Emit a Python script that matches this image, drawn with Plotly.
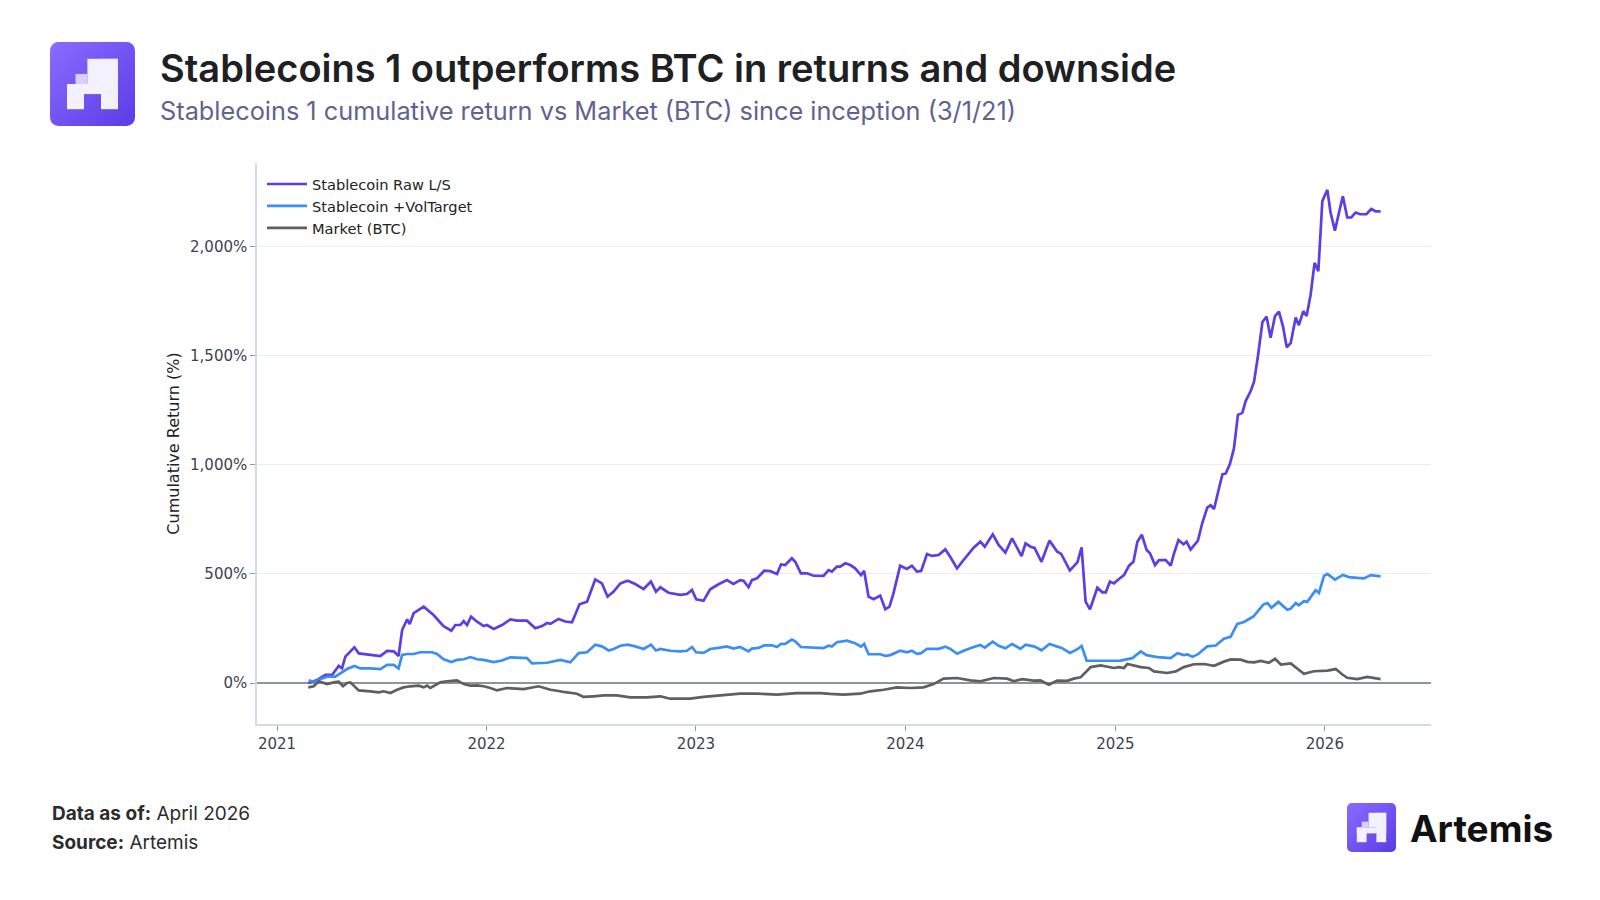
import base64
from datetime import datetime, timedelta
import plotly.graph_objects as go

# ---------------- data (time as decimal year, value in %) ----------------
raw_t = [2021.149, 2021.191, 2021.231, 2021.263, 2021.294, 2021.310, 2021.326, 2021.369, 2021.390, 2021.445,
         2021.493, 2021.525, 2021.557, 2021.580, 2021.597, 2021.621, 2021.633, 2021.652, 2021.700, 2021.747,
         2021.795, 2021.832, 2021.851, 2021.875, 2021.891, 2021.907, 2021.926, 2021.955, 2021.986, 2022.002,
         2022.034, 2022.074, 2022.114, 2022.146, 2022.193, 2022.233, 2022.265, 2022.289, 2022.305, 2022.344,
         2022.376, 2022.408, 2022.444, 2022.480, 2022.519, 2022.551, 2022.578, 2022.607, 2022.639, 2022.674,
         2022.710, 2022.750, 2022.785, 2022.809, 2022.830, 2022.869, 2022.925, 2022.957, 2022.981, 2023.001,
         2023.036, 2023.068, 2023.108, 2023.148, 2023.179, 2023.211, 2023.227, 2023.251, 2023.267, 2023.291,
         2023.326, 2023.355, 2023.387, 2023.406, 2023.426, 2023.458, 2023.474, 2023.501, 2023.530, 2023.561,
         2023.609, 2023.633, 2023.649, 2023.673, 2023.689, 2023.713, 2023.737, 2023.760, 2023.788, 2023.803,
         2023.824, 2023.848, 2023.880, 2023.904, 2023.924, 2023.943, 2023.975, 2024.007, 2024.031, 2024.055,
         2024.075, 2024.103, 2024.126, 2024.158, 2024.190, 2024.214, 2024.246, 2024.277, 2024.325, 2024.357,
         2024.378, 2024.416, 2024.444, 2024.476, 2024.508, 2024.553, 2024.572, 2024.596, 2024.615, 2024.648,
         2024.686, 2024.723, 2024.742, 2024.783, 2024.819, 2024.839, 2024.858, 2024.879, 2024.914, 2024.938,
         2024.954, 2024.974, 2024.993, 2025.017, 2025.041, 2025.065, 2025.086, 2025.105, 2025.126, 2025.149,
         2025.165, 2025.189, 2025.208, 2025.240, 2025.264, 2025.280, 2025.301, 2025.325, 2025.340, 2025.359,
         2025.394, 2025.415, 2025.439, 2025.455, 2025.471, 2025.490, 2025.511, 2025.527, 2025.547, 2025.566,
         2025.585, 2025.606, 2025.622, 2025.646, 2025.662, 2025.681, 2025.702, 2025.722, 2025.741, 2025.762,
         2025.781, 2025.800, 2025.818, 2025.837, 2025.861, 2025.876, 2025.897, 2025.913, 2025.932, 2025.951,
         2025.969, 2025.988, 2026.012, 2026.027, 2026.048, 2026.068, 2026.086, 2026.107, 2026.126, 2026.147,
         2026.168, 2026.198, 2026.222, 2026.243, 2026.266]
raw_v = [0, 14, 37, 37, 78, 67, 121, 164, 136, 131,
         124, 147, 145, 124, 243, 292, 270, 320, 350, 312,
         261, 240, 266, 266, 284, 266, 304, 281, 261, 266,
         248, 266, 292, 286, 286, 251, 261, 275, 271, 294,
         282, 278, 361, 373, 475, 457, 396, 419, 457, 469,
         454, 431, 465, 419, 439, 414, 404, 408, 427, 384,
         377, 430, 453, 472, 454, 472, 469, 439, 472, 480,
         515, 513, 500, 544, 541, 572, 556, 503, 503, 492,
         491, 518, 511, 534, 534, 549, 541, 526, 495, 514,
         396, 384, 401, 338, 350, 411, 538, 523, 538, 511,
         514, 592, 583, 587, 613, 578, 526, 564, 621, 648,
         625, 682, 633, 598, 663, 582, 640, 625, 620, 556,
         653, 602, 592, 516, 553, 622, 373, 338, 437, 416,
         416, 465, 457, 477, 495, 538, 556, 648, 680, 610,
         595, 541, 564, 564, 538, 595, 656, 636, 648, 612,
         653, 735, 805, 815, 798, 875, 957, 961, 1005, 1076,
         1230, 1239, 1293, 1339, 1382, 1502, 1656, 1680, 1584, 1683,
         1703, 1636, 1540, 1559, 1676, 1641, 1706, 1683, 1780, 1927,
         1889, 2210, 2262, 2159, 2075, 2159, 2232, 2135, 2135, 2158,
         2150, 2150, 2174, 2163, 2163]

vol_t = [2021.151, 2021.175, 2021.207, 2021.239, 2021.278, 2021.310, 2021.334, 2021.369, 2021.398, 2021.445,
         2021.493, 2021.525, 2021.557, 2021.580, 2021.597, 2021.621, 2021.652, 2021.684, 2021.740, 2021.764,
         2021.795, 2021.832, 2021.859, 2021.891, 2021.923, 2021.955, 2021.986, 2022.034, 2022.074, 2022.114,
         2022.193, 2022.217, 2022.265, 2022.289, 2022.352, 2022.400, 2022.440, 2022.480, 2022.519, 2022.551,
         2022.583, 2022.607, 2022.639, 2022.674, 2022.710, 2022.750, 2022.785, 2022.809, 2022.830, 2022.877,
         2022.925, 2022.957, 2022.981, 2023.001, 2023.036, 2023.068, 2023.108, 2023.148, 2023.179, 2023.211,
         2023.251, 2023.267, 2023.299, 2023.326, 2023.363, 2023.387, 2023.406, 2023.426, 2023.458, 2023.474,
         2023.501, 2023.561, 2023.609, 2023.633, 2023.649, 2023.673, 2023.721, 2023.760, 2023.788, 2023.803,
         2023.824, 2023.880, 2023.904, 2023.928, 2023.975, 2024.007, 2024.031, 2024.055, 2024.075, 2024.103,
         2024.158, 2024.190, 2024.214, 2024.246, 2024.277, 2024.325, 2024.357, 2024.378, 2024.416, 2024.444,
         2024.476, 2024.508, 2024.548, 2024.572, 2024.615, 2024.648, 2024.686, 2024.723, 2024.742, 2024.783,
         2024.819, 2024.839, 2024.863, 2024.940, 2025.025, 2025.081, 2025.121, 2025.149, 2025.200, 2025.264,
         2025.296, 2025.327, 2025.344, 2025.368, 2025.394, 2025.439, 2025.479, 2025.518, 2025.550, 2025.582,
         2025.614, 2025.659, 2025.706, 2025.726, 2025.745, 2025.778, 2025.821, 2025.837, 2025.861, 2025.876,
         2025.900, 2025.916, 2025.932, 2025.956, 2025.972, 2025.996, 2026.012, 2026.048, 2026.086, 2026.115,
         2026.155, 2026.187, 2026.219, 2026.266]
vol_v = [12, 5, 18, 29, 29, 48, 64, 78, 67, 67,
         64, 83, 83, 67, 129, 133, 133, 141, 141, 133,
         109, 96, 106, 109, 119, 109, 106, 96, 103, 118,
         114, 90, 90, 93, 106, 95, 137, 141, 176, 168,
         149, 156, 171, 176, 168, 156, 176, 149, 156, 148,
         145, 148, 165, 141, 138, 156, 161, 168, 158, 165,
         145, 158, 161, 173, 173, 165, 180, 179, 199, 191,
         165, 164, 160, 171, 167, 187, 194, 182, 167, 179,
         132, 132, 125, 128, 148, 141, 148, 134, 137, 157,
         157, 167, 156, 134, 148, 165, 174, 162, 190, 171,
         159, 179, 157, 176, 167, 150, 179, 167, 162, 138,
         155, 170, 102, 102, 103, 114, 145, 128, 119, 114,
         137, 128, 131, 120, 132, 168, 172, 203, 212, 271,
         280, 305, 360, 367, 345, 372, 336, 341, 367, 356,
         375, 372, 392, 426, 413, 491, 500, 474, 496, 486,
         482, 480, 495, 489]

btc_t = [2021.149, 2021.175, 2021.199, 2021.222, 2021.239, 2021.270, 2021.294, 2021.315, 2021.334, 2021.350,
         2021.390, 2021.445, 2021.485, 2021.509, 2021.541, 2021.573, 2021.604, 2021.636, 2021.676, 2021.700,
         2021.716, 2021.732, 2021.779, 2021.811, 2021.859, 2021.891, 2021.923, 2021.955, 2021.986, 2022.018,
         2022.050, 2022.098, 2022.177, 2022.249, 2022.305, 2022.352, 2022.368, 2022.432, 2022.463, 2022.511,
         2022.559, 2022.623, 2022.686, 2022.766, 2022.830, 2022.877, 2022.973, 2023.036, 2023.132, 2023.211,
         2023.291, 2023.387, 2023.482, 2023.593, 2023.641, 2023.705, 2023.784, 2023.832, 2023.896, 2023.959,
         2024.023, 2024.086, 2024.134, 2024.182, 2024.246, 2024.309, 2024.357, 2024.421, 2024.485, 2024.516,
         2024.556, 2024.611, 2024.643, 2024.683, 2024.723, 2024.771, 2024.802, 2024.834, 2024.858, 2024.882,
         2024.930, 2024.962, 2024.993, 2025.017, 2025.041, 2025.057, 2025.089, 2025.121, 2025.160, 2025.184,
         2025.248, 2025.288, 2025.327, 2025.375, 2025.423, 2025.471, 2025.518, 2025.550, 2025.598, 2025.630,
         2025.662, 2025.694, 2025.733, 2025.762, 2025.790, 2025.837, 2025.900, 2025.948, 2026.012, 2026.052,
         2026.084, 2026.107, 2026.155, 2026.203, 2026.266]
btc_v = [-20, -15, 8, 0, -5, 3, 6, -15, 0, 3,
         -34, -38, -43, -38, -46, -31, -20, -15, -12, -20,
         -12, -23, 3, 8, 12, -5, -12, -11, -15, -23,
         -34, -23, -28, -15, -31, -38, -41, -49, -64, -61,
         -57, -57, -66, -66, -61, -72, -72, -64, -57, -49,
         -49, -53, -46, -46, -50, -53, -49, -38, -31, -20,
         -23, -20, -5, 20, 23, 12, 8, 23, 20, 8,
         18, 11, 12, -8, 11, 10, 20, 26, 49, 73,
         81, 76, 69, 73, 69, 87, 79, 73, 69, 53,
         46, 53, 73, 86, 87, 79, 98, 108, 107, 97,
         95, 101, 93, 111, 85, 90, 42, 54, 57, 64,
         39, 24, 18, 28, 18]

series_names = ["Stablecoin Raw L/S", "Stablecoin +VolTarget", "Market (BTC)"]
series_colors = ["#5b3ee6", "#3a8ef5", "#5f5f5f"]
y_ticks = [0, 500, 1000, 1500, 2000]
x_tick_years = [2021, 2022, 2023, 2024, 2025, 2026]

title_text = "Stablecoins 1 outperforms BTC in returns and downside"
subtitle_text = "Stablecoins 1 cumulative return vs Market (BTC) since inception (3/1/21)"
y_title = "Cumulative Return (%)"
footer_date = "April 2026"
footer_source = "Artemis"


def to_date(t):
    y = int(t)
    start = datetime(y, 1, 1)
    days = (datetime(y + 1, 1, 1) - start).days
    return start + timedelta(days=(t - y) * days)


# ---------------- layout helpers (target pixel -> paper) ----------------
OFF = 8                      # page body margin of the html page
W, H = 1600 - OFF, 900 - OFF
PL, PR, PT, PB = 257 - OFF, 1431 - OFF, 163 - OFF, 724 - OFF


def px(x):
    return (x - OFF - PL) / (PR - PL)


def py(y):
    return (PB - (y - OFF)) / (PB - PT)


fig = go.Figure()
for t, v, name, col in zip([raw_t, vol_t, btc_t], [raw_v, vol_v, btc_v], series_names, series_colors):
    fig.add_trace(go.Scatter(x=[to_date(a) for a in t], y=v, mode="lines", name=name,
                             line=dict(color=col, width=2.7)))

axis_col = "#d3dbe6"
fig.update_layout(
    width=W, height=H,
    margin=dict(l=PL, r=W - PR, t=PT, b=H - PB),
    paper_bgcolor="white", plot_bgcolor="white",
    font=dict(family="DejaVu Sans", size=15, color="#3b4252"),
    showlegend=True,
    legend=dict(x=px(262), y=py(168), xanchor="left", yanchor="top", bgcolor="rgba(0,0,0,0)",
                font=dict(family="DejaVu Sans", size=14.6, color="#222222"), itemwidth=40),
    xaxis=dict(range=[datetime(2020, 11, 27), datetime(2026, 7, 5)],
               tickvals=[datetime(y, 1, 1) for y in x_tick_years],
               ticktext=[str(y) for y in x_tick_years],
               showgrid=False, showline=True, linecolor=axis_col, linewidth=1.5,
               ticks="outside", ticklen=5, tickcolor="#8d96a3",
               tickfont=dict(size=15, color="#3b4252"), zeroline=False),
    yaxis=dict(range=[-188, 2385], tickvals=y_ticks,
               ticktext=[f"{v:,}%" for v in y_ticks],
               showgrid=True, gridcolor="#e7edf3", gridwidth=1,
               showline=True, linecolor=axis_col, linewidth=1.5,
               ticks="outside", ticklen=5, tickcolor="#8d96a3",
               zeroline=True, zerolinecolor="#8e949c", zerolinewidth=1.5,
               tickfont=dict(size=15, color="#3b4252"),
               title=dict(text=y_title, font=dict(size=16, color="#222222"), standoff=6)),
)


def logo_svg():
    svg = ('<svg xmlns="http://www.w3.org/2000/svg" viewBox="0 0 100 100" width="200" height="200">'
           '<defs><linearGradient id="g" x1="0" y1="0" x2="1" y2="1">'
           '<stop offset="0" stop-color="#8b6cff"/><stop offset="1" stop-color="#5a3ce6"/></linearGradient></defs>'
           '<rect x="0" y="0" width="100" height="100" rx="10" ry="10" fill="url(#g)"/>'
           '<g fill="#f4f1ff">'
           '<rect x="44" y="20" width="36" height="30"/>'
           '<rect x="60" y="20" width="20" height="60"/>'
           '<rect x="20" y="50" width="60" height="12"/>'
           '<rect x="20" y="50" width="20" height="30"/>'
           '</g>'
           '<rect x="30" y="38" width="14" height="12" fill="#d8ceff"/>'
           '</svg>')
    return "data:image/svg+xml;base64," + base64.b64encode(svg.encode()).decode()


src = logo_svg()
fig.add_layout_image(dict(source=src, xref="paper", yref="paper", x=px(50), y=py(42),
                          sizex=px(135) - px(50), sizey=py(42) - py(126),
                          xanchor="left", yanchor="top", sizing="stretch", layer="above"))
fig.add_layout_image(dict(source=src, xref="paper", yref="paper", x=px(1347), y=py(803),
                          sizex=px(1396) - px(1347), sizey=py(803) - py(852),
                          xanchor="left", yanchor="top", sizing="stretch", layer="above"))

ann = [
    dict(x=px(158), y=py(68), text=title_text,
         font=dict(family="Inter", size=38, weight=600, color="#1f2024")),
    dict(x=px(158), y=py(110), text=subtitle_text,
         font=dict(family="Inter", size=25.3, color="#5f6391")),
    dict(x=px(50), y=py(813), text=f"<b>Data as of:</b> {footer_date}",
         font=dict(family="Inter", size=19, color="#2c2c2c")),
    dict(x=px(50), y=py(842), text=f"<b>Source:</b> {footer_source}",
         font=dict(family="Inter", size=19, color="#2c2c2c")),
    dict(x=px(1408), y=py(828), text="<b>Artemis</b>",
         font=dict(family="Inter", size=37, color="#111111")),
]
for a in ann:
    fig.add_annotation(xref="paper", yref="paper", xanchor="left", yanchor="middle",
                       showarrow=False, **a)

fig.write_html("out.html")
